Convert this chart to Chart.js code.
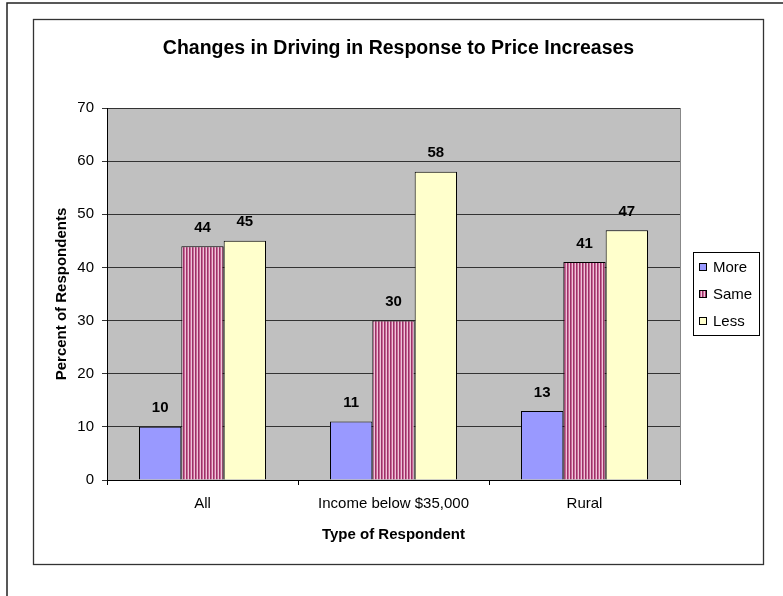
<!DOCTYPE html>
<html><head><meta charset="utf-8">
<script src="https://cdn.jsdelivr.net/npm/chart.js@4/dist/chart.umd.min.js"></script>
<style>html,body{margin:0;padding:0;background:#fff;}canvas{display:block;}</style>
</head><body>
<canvas id="c" width="783" height="596"></canvas>
<script>
const chartTitle = 'Changes in Driving in Response to Price Increases';
const categories = ['All', 'Income below $35,000', 'Rural'];
const seriesNames = ['More', 'Same', 'Less'];
const moreValues = [10, 11, 13];
const sameValues = [44, 30, 41];
const lessValues = [45, 58, 47];
const yTicks = [0, 10, 20, 30, 40, 50, 60, 70];
const xAxisTitle = 'Type of Respondent';
const yAxisTitle = 'Percent of Respondents';

const FONT = "'Liberation Sans', Arial, sans-serif";
const FS = 15;
const canvas = document.getElementById('c');
const ctx0 = canvas.getContext('2d');

function stripePattern() {
  const p = document.createElement('canvas');
  p.width = 3; p.height = 4;
  const g = p.getContext('2d');
  g.fillStyle = '#993366'; g.fillRect(0, 0, 1, 4);
  g.fillStyle = '#CC6699'; g.fillRect(1, 0, 1, 4);
  g.fillStyle = '#EEC4D8'; g.fillRect(2, 0, 1, 4);
  return ctx0.createPattern(p, 'repeat');
}
const sameFill = stripePattern();
const fills = ['#9999FF', sameFill, '#FFFFCC'];

const decor = {
  id: 'decor',
  beforeDraw(chart) {
    const {ctx, chartArea: a} = chart;
    ctx.save();
    ctx.fillStyle = '#fff';
    ctx.fillRect(0, 0, chart.width, chart.height);
    ctx.fillStyle = '#C0C0C0';
    ctx.fillRect(a.left, a.top, a.right - a.left, a.bottom - a.top);
    ctx.restore();
  },
  afterDatasetsDraw(chart) {
    const {ctx, chartArea: a} = chart;
    ctx.save();
    ctx.strokeStyle = '#888';
    ctx.lineWidth = 1;
    ctx.beginPath();
    ctx.moveTo(Math.round(a.right) + 0.5, a.top);
    ctx.lineTo(Math.round(a.right) + 0.5, a.bottom);
    ctx.stroke();
    ctx.fillStyle = '#000';
    ctx.font = 'bold ' + FS + 'px ' + FONT;
    ctx.textAlign = 'center';
    ctx.textBaseline = 'middle';
    chart.data.datasets.forEach((ds, i) => {
      const meta = chart.getDatasetMeta(i);
      meta.data.forEach((bar, j) => {
        ctx.fillText(String(ds.data[j]), bar.x, bar.y - 18.5);
      });
    });
    ctx.restore();
  },
  afterDraw(chart) {
    const {ctx, chartArea: a} = chart;
    ctx.save();
    ctx.strokeStyle = '#222';
    ctx.lineWidth = 1.5;
    ctx.beginPath();
    ctx.moveTo(7, chart.height + 5);
    ctx.lineTo(7, 3);
    ctx.lineTo(chart.width + 5, 3);
    ctx.stroke();
    ctx.lineWidth = 1.3;
    ctx.strokeStyle = '#333';
    ctx.strokeRect(33.5, 19.5, 730, 545);
    ctx.fillStyle = '#000';
    ctx.font = 'bold 19.5px ' + FONT;
    ctx.textAlign = 'center';
    ctx.textBaseline = 'middle';
    ctx.fillText(chartTitle, 398.5, 49);
    const lx = Math.round(a.right) + 13, ly = 252;
    ctx.lineWidth = 1;
    ctx.strokeStyle = '#000';
    ctx.fillStyle = '#fff';
    ctx.fillRect(lx + 0.5, ly + 0.5, 66, 83);
    ctx.strokeRect(lx + 0.5, ly + 0.5, 66, 83);
    ctx.font = FS + 'px ' + FONT;
    ctx.textAlign = 'left';
    chart.data.datasets.forEach((ds, i) => {
      const cy = ly + 15 + i * 27;
      ctx.fillStyle = ds.backgroundColor;
      ctx.fillRect(lx + 6, cy - 4, 8, 8);
      ctx.strokeRect(lx + 6.5, cy - 3.5, 7, 7);
      ctx.fillStyle = '#000';
      ctx.fillText(ds.label, lx + 20, cy + 0.5);
    });
    ctx.restore();
  }
};

const datasets = [moreValues, sameValues, lessValues].map((vals, i) => ({
  label: seriesNames[i],
  data: vals,
  backgroundColor: fills[i],
  borderColor: '#000',
  borderWidth: 1,
  categoryPercentage: 0.665,
  barPercentage: 1.0
}));

new Chart(canvas, {
  type: 'bar',
  data: { labels: categories, datasets },
  options: {
    responsive: false,
    animation: false,
    devicePixelRatio: 1,
    layout: { padding: { left: 40, right: 103, top: 108, bottom: 46 } },
    plugins: {
      legend: { display: false },
      title: { display: false },
      tooltip: { enabled: false }
    },
    scales: {
      x: {
        grid: { offset: true, drawOnChartArea: false, drawTicks: true, tickLength: 5, color: '#000' },
        border: { color: '#000', width: 1 },
        ticks: { font: { family: FONT, size: FS }, color: '#000', padding: 10, maxRotation: 0, autoSkip: false },
        title: { display: true, text: xAxisTitle, color: '#000', font: { family: FONT, size: FS, weight: 'bold' }, padding: { top: 0, bottom: 6 } },
        afterFit(s) { s.height = 70; }
      },
      y: {
        min: 0, max: 70,
        afterBuildTicks(s) { s.ticks = yTicks.map(v => ({ value: v })); },
        grid: { color: '#333', tickLength: 5, drawTicks: true },
        border: { color: '#000', width: 1 },
        ticks: { font: { family: FONT, size: FS }, color: '#000', padding: 8 },
        title: { display: true, text: yAxisTitle, color: '#000', font: { family: FONT, size: FS, weight: 'bold' }, padding: { top: 13, bottom: 0 } },
        afterFit(s) { s.width = 67; }
      }
    }
  },
  plugins: [decor]
});
</script>
</body></html>
